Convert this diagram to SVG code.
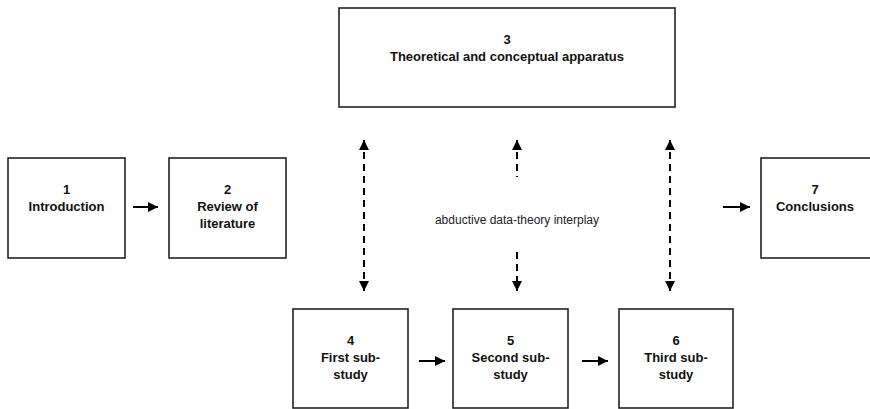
<svg xmlns="http://www.w3.org/2000/svg" width="870" height="409" viewBox="0 0 870 409">
  <defs>
    <marker id="head" viewBox="0 0 10 10" refX="10" refY="5" markerWidth="10" markerHeight="10" markerUnits="userSpaceOnUse" orient="auto-start-reverse">
      <path d="M0,0 L10,5 L0,10 Z" fill="#000"/>
    </marker>
    <style>
      .box { fill: #fff; stroke: #222; stroke-width: 1.6; }
      .lbl { font-family: "Liberation Sans", Arial, sans-serif; font-size: 13px; font-weight: bold; fill: #111; text-anchor: middle; }
      .note { font-family: "Liberation Sans", Arial, sans-serif; font-size: 12px; fill: #222; text-anchor: middle; }
      .solid { stroke: #000; stroke-width: 2; fill: none; marker-end: url(#head); }
      .dash { stroke: #000; stroke-width: 2; fill: none; stroke-dasharray: 7 5; }
    </style>
  </defs>
  <rect width="870" height="409" fill="#fff"/>

  <g id="node-1">
    <rect class="box" x="8" y="158" width="117" height="100"/>
    <text class="lbl" x="66.5" y="194">1</text>
    <text class="lbl" x="66.5" y="211">Introduction</text>
  </g>
  <g id="node-2">
    <rect class="box" x="169" y="158" width="117" height="100"/>
    <text class="lbl" x="227.5" y="194">2</text>
    <text class="lbl" x="227.5" y="211">Review of</text>
    <text class="lbl" x="227.5" y="228">literature</text>
  </g>
  <g id="node-3">
    <rect class="box" x="339" y="8" width="336" height="99"/>
    <text class="lbl" x="507" y="44">3</text>
    <text class="lbl" x="507" y="61">Theoretical and conceptual apparatus</text>
  </g>
  <g id="node-4">
    <rect class="box" x="293" y="309" width="115" height="99"/>
    <text class="lbl" x="350.5" y="345">4</text>
    <text class="lbl" x="350.5" y="362">First sub-</text>
    <text class="lbl" x="350.5" y="379">study</text>
  </g>
  <g id="node-5">
    <rect class="box" x="453" y="309" width="115" height="99"/>
    <text class="lbl" x="510.5" y="345">5</text>
    <text class="lbl" x="510.5" y="362">Second sub-</text>
    <text class="lbl" x="510.5" y="379">study</text>
  </g>
  <g id="node-6">
    <rect class="box" x="619" y="309" width="114" height="99"/>
    <text class="lbl" x="676" y="345">6</text>
    <text class="lbl" x="676" y="362">Third sub-</text>
    <text class="lbl" x="676" y="379">study</text>
  </g>
  <g id="node-7">
    <rect class="box" x="761" y="158" width="117" height="100"/>
    <text class="lbl" x="815" y="194">7</text>
    <text class="lbl" x="815" y="211">Conclusions</text>
  </g>

  <g id="connectors">
    <line class="solid" x1="133" y1="207" x2="158" y2="207"/>
    <line class="solid" x1="419" y1="361" x2="445" y2="361"/>
    <line class="solid" x1="582" y1="361" x2="608" y2="361"/>
    <line class="solid" x1="723" y1="207" x2="750" y2="207"/>

    <line class="dash" x1="364" y1="140" x2="364" y2="291" marker-start="url(#head)" marker-end="url(#head)"/>
    <line class="dash" x1="517" y1="140" x2="517" y2="177" marker-start="url(#head)"/>
    <line class="dash" x1="517" y1="252" x2="517" y2="291" marker-end="url(#head)"/>
    <line class="dash" x1="670" y1="140" x2="670" y2="291" marker-start="url(#head)" marker-end="url(#head)"/>
    <text class="note" x="517" y="224">abductive data-theory interplay</text>
  </g>
</svg>
